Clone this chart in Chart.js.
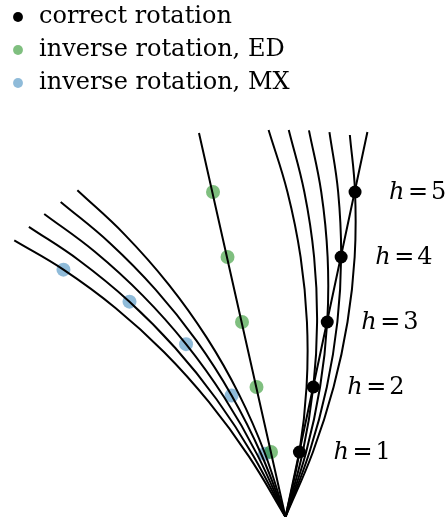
<!DOCTYPE html>
<html>
<head>
<meta charset="utf-8">
<script src="https://cdn.jsdelivr.net/npm/chart.js@4.4.1/dist/chart.umd.min.js"></script>
<style>
    html, body { margin: 0; padding: 0; background: #fff; }
    #wrap { width: 448px; height: 517px; position: relative; }
</style>
</head>
<body>
<div id="wrap"><canvas id="chart"></canvas></div>
<script>
// units: one step of h; x measured from the common origin
const heights = [1, 2, 3, 4, 5];
const correctX = [0.214, 0.428, 0.642, 0.856, 1.07];
const edX = [-0.223, -0.446, -0.669, -0.892, -1.115];
const mxX = [-0.315, -0.829, -1.530, -2.400, -3.416];
const mxY = [0.973, 1.870, 2.659, 3.313, 3.805];

const correctLineX = [0, 1.26];
const correctLineY = [0, 5.923];
const edLineX = [0, -1.331];
const edLineY = [0, 5.908];

const rightCurvesX = [
    [0, 0.214, 0.324, 0.330, 0.232, 0.030, -0.260],
    [0, 0.266, 0.428, 0.486, 0.440, 0.290, 0.050],
    [0, 0.318, 0.532, 0.642, 0.648, 0.550, 0.361],
    [0, 0.370, 0.636, 0.798, 0.856, 0.810, 0.676],
    [0, 0.422, 0.740, 0.954, 1.064, 1.070, 0.990]
];
const rightCurvesY = [
    [0, 1, 2, 3, 4, 5, 5.954],
    [0, 1, 2, 3, 4, 5, 5.954],
    [0, 1, 2, 3, 4, 5, 5.948],
    [0, 1, 2, 3, 4, 5, 5.921],
    [0, 1, 2, 3, 4, 5, 5.877]
];
const leftCurvesX = [
    [0, -0.315, -0.719, -1.214, -1.799, -2.474, -3.202],
    [0, -0.373, -0.829, -1.370, -1.995, -2.704, -3.459],
    [0, -0.433, -0.943, -1.530, -2.195, -2.937, -3.712],
    [0, -0.496, -1.061, -1.695, -2.400, -3.174, -3.948],
    [0, -0.561, -1.183, -1.866, -2.611, -3.416, -4.173]
];
const leftCurvesY = [
    [0, 0.973, 1.894, 2.763, 3.580, 4.345, 5.026],
    [0, 0.965, 1.870, 2.713, 3.495, 4.216, 4.846],
    [0, 0.956, 1.842, 2.659, 3.406, 4.084, 4.662],
    [0, 0.944, 1.811, 2.600, 3.313, 3.947, 4.464],
    [0, 0.929, 1.774, 2.535, 3.212, 3.805, 4.255]
];

function pts(xs, ys) {
    return xs.map((x, i) => ({ x: x, y: ys[i] }));
}

function curve(xs, ys) {
    return {
        data: pts(xs, ys),
        showLine: true,
        pointRadius: 0,
        borderColor: "#000",
        borderWidth: 2,
        tension: 0.4,
        order: 0
    };
}

const datasets = [
    {
        label: "correct rotation",
        data: pts(correctX, heights),
        backgroundColor: "#000",
        borderWidth: 0,
        pointRadius: 6.5,
        order: 1
    },
    {
        label: "inverse rotation, ED",
        data: pts(edX, heights),
        backgroundColor: "rgba(0, 128, 0, 0.5)",
        borderWidth: 0,
        pointRadius: 7,
        order: 2
    },
    {
        label: "inverse rotation, MX",
        data: pts(mxX, mxY),
        backgroundColor: "rgba(31, 119, 180, 0.5)",
        borderWidth: 0,
        pointRadius: 7,
        order: 3
    },
    curve(correctLineX, correctLineY),
    curve(edLineX, edLineY)
];
rightCurvesX.forEach((xs, i) => datasets.push(curve(xs, rightCurvesY[i])));
leftCurvesX.forEach((xs, i) => datasets.push(curve(xs, leftCurvesY[i])));

// "h = n" next to each black point
const hLabels = {
    id: "hLabels",
    afterDatasetsDraw(chart) {
        const { ctx, scales } = chart;
        ctx.save();
        ctx.fillStyle = "#000";
        ctx.textBaseline = "alphabetic";
        heights.forEach((h, i) => {
            const px = scales.x.getPixelForValue(correctX[i]) + 34;
            const py = scales.y.getPixelForValue(h) + 6.5;
            ctx.font = "italic 24px 'DejaVu Serif'";
            ctx.fillText("h", px, py);
            ctx.font = "24px 'DejaVu Serif'";
            ctx.fillText("=", px + 19, py);
            ctx.fillText(String(h), px + 42, py);
        });
        ctx.restore();
    }
};

// pull the legend a little closer to the top edge
const legendNudge = {
    id: "legendNudge",
    afterLayout(chart) {
        if (chart.legend) {
            chart.legend.top -= 4;
            chart.legend.bottom -= 4;
        }
    }
};

new Chart(document.getElementById("chart"), {
    type: "scatter",
    data: { datasets: datasets },
    options: {
        responsive: true,
        maintainAspectRatio: false,
        animation: false,
        events: [],
        layout: { padding: 0, autoPadding: false },
        scales: {
            x: { type: "linear", display: false, min: -285.5 / 65, max: 162.5 / 65 },
            y: { type: "linear", display: false, min: 0, max: 517 / 65 }
        },
        plugins: {
            tooltip: { enabled: false },
            legend: {
                position: "chartArea",
                align: "start",
                labels: {
                    filter: item => !!item.text,
                    usePointStyle: true,
                    pointStyle: "circle",
                    boxWidth: 18,
                    boxHeight: 7,
                    padding: 9,
                    color: "#000",
                    font: { family: "'DejaVu Serif'", size: 24 }
                }
            }
        }
    },
    plugins: [hLabels, legendNudge]
});
</script>
</body>
</html>
